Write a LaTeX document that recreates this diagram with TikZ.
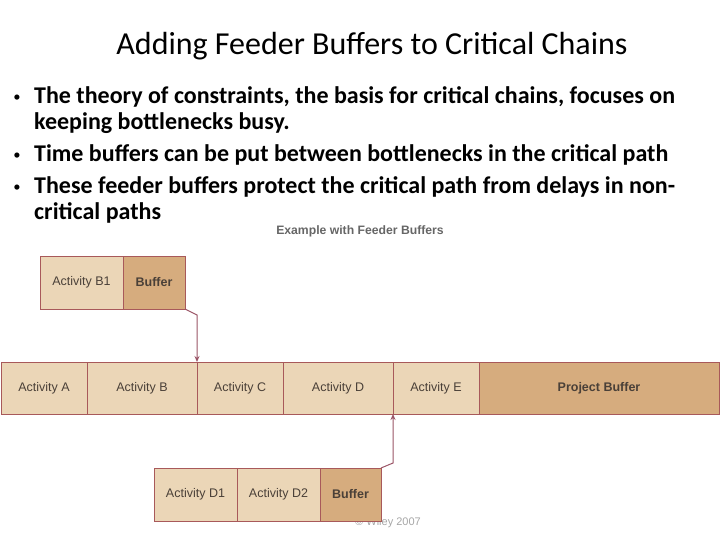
\documentclass[tikz,border=0pt]{standalone}
\usepackage{fontspec}
\setmainfont{Carlito}
\newfontfamily\arialfont{Liberation Sans}
\usetikzlibrary{positioning,arrows.meta}
\definecolor{actfill}{HTML}{EBD6B7}
\definecolor{buffill}{HTML}{D6AC7E}
\definecolor{edgecol}{HTML}{A8595A}
\definecolor{arrowcol}{HTML}{9A5466}
\definecolor{labelcol}{HTML}{4A4038}

\begin{document}
\begin{tikzpicture}[x=1pt, y=-1pt, >={Stealth[length=6pt,width=5pt]},
    act/.style={rectangle, draw=edgecol, line width=1pt, fill=actfill, inner sep=0pt, outer sep=0pt,
        font=\arialfont\fontsize{12.5}{14}\selectfont, text=labelcol},
    buf/.style={act, fill=buffill, font=\arialfont\bfseries\fontsize{12.5}{14}\selectfont},
    bullettext/.style={anchor=base west, inner sep=0pt, align=left,
        font=\bfseries\fontsize{24}{26}\selectfont},
    bulletdot/.style={anchor=base, inner sep=0pt, font=\arialfont\bfseries\fontsize{18}{26}\selectfont},
    feed/.style={->, draw=arrowcol, line width=1pt}]
    \useasboundingbox (0,0) rectangle (720,540);

    % heading and bullets (base anchor = last line)
    \node[font=\fontsize{32}{36}\selectfont] (title) at (372,46) {Adding Feeder Buffers to Critical Chains};
    \node[bulletdot] (dot1) at (17,104) {•};
    \node[bullettext] (item1) at (34,130) {The theory of constraints, the basis for critical chains, focuses on\\keeping bottlenecks busy.};
    \node[bulletdot] (dot2) at (17,162) {•};
    \node[bullettext] (item2) at (34,162) {Time buffers can be put between bottlenecks in the critical path};
    \node[bulletdot] (dot3) at (17,194) {•};
    \node[bullettext] (item3) at (34,220) {These feeder buffers protect the critical path from delays in non-\\critical paths};
    \node[font=\arialfont\bfseries\fontsize{12.2}{14}\selectfont, text=black!60] (caption) at (360,231) {Example with Feeder Buffers};
    \node[font=\arialfont\fontsize{11}{13}\selectfont, text=black!35] (wiley) at (388,523) {\textcopyright{} Wiley 2007};

    % feeder chain B
    \node[act, minimum width=83pt, minimum height=53pt, anchor=north west] (actb1) at (40,256) {Activity B1};
    \node[buf, minimum width=62pt, minimum height=53pt, right=0pt of actb1] (bufb) {Buffer};

    % critical chain
    \node[act, minimum width=86pt, minimum height=52pt, anchor=north west] (acta) at (1,362) {Activity A};
    \node[act, minimum width=110pt, minimum height=52pt, right=0pt of acta] (actb) {Activity B};
    \node[act, minimum width=86pt, minimum height=52pt, right=0pt of actb] (actc) {Activity C};
    \node[act, minimum width=110pt, minimum height=52pt, right=0pt of actc] (actd) {Activity D};
    \node[act, minimum width=86pt, minimum height=52pt, right=0pt of actd] (acte) {Activity E};
    \node[buf, minimum width=240pt, minimum height=52pt, right=0pt of acte] (projbuf) {Project Buffer};

    % feeder chain D
    \node[act, minimum width=83pt, minimum height=53pt, anchor=north west] (actd1) at (154,468) {Activity D1};
    \node[act, minimum width=83pt, minimum height=53pt, right=0pt of actd1] (actd2) {Activity D2};
    \node[buf, minimum width=61pt, minimum height=53pt, right=0pt of actd2] (bufd) {Buffer};

    \draw[feed] (bufb.south east) -- ++(12,6) -- (actc.north west);
    \draw[feed] (bufd.north east) -- ++(12,-5) -- (acte.south west);
\end{tikzpicture}
\end{document}
